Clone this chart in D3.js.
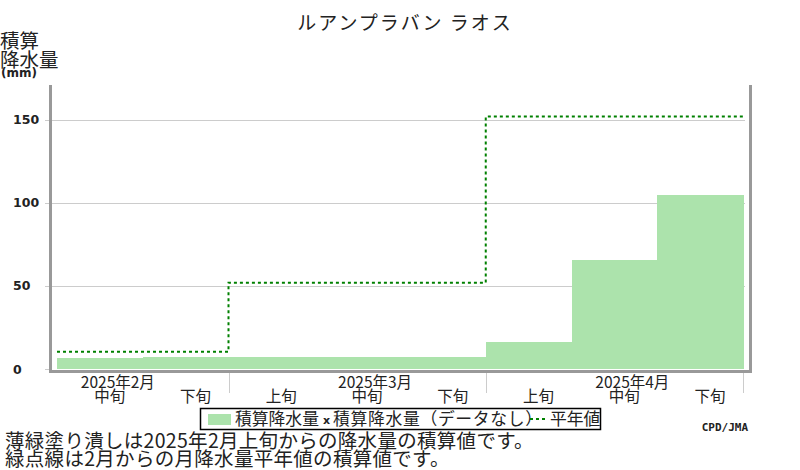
<!DOCTYPE html>
<html>
<head>
<meta charset="utf-8">
<script src="https://cdn.jsdelivr.net/npm/d3@7"></script>
<style>
  body { margin: 0; background: #fff; }
  svg { display: block; }
  .jp { font-family: "Noto Sans CJK JP", sans-serif; fill: #222; }
</style>
</head>
<body>
<svg id="chart"></svg>
<script>
// dekads shown on the x axis (2月中旬 .. 4月下旬)
const dekadLabels = ["中旬", "下旬", "上旬", "中旬", "下旬", "上旬", "中旬", "下旬"];
const dekadMonth = [0, 0, 1, 1, 1, 2, 2, 2];
const monthLabels = ["2025年2月", "2025年3月", "2025年4月"];
// accumulated precipitation since 2月上旬 (mm)
const accumPrecip = [6.4, 7.4, 7.4, 7.4, 7.4, 16.3, 65.7, 104.8];
// accumulated monthly normals since 2月 (mm)
const accumNormal = [10.4, 10.4, 52.0, 52.0, 52.0, 152.0, 152.0, 152.0];
const yTicks = [0, 50, 100, 150];

const width = 800;
const height = 470;

const svg = d3.select("#chart").attr("width", width).attr("height", height);

// plot frame
const frameLeft = 50.5, frameRight = 750.5, frameTop = 85, frameBottom = 371.5;

const x = d3.scaleBand()
  .domain(d3.range(dekadLabels.length))
  .range([57, 743])
  .paddingInner(0)
  .paddingOuter(0);

const y = d3.scaleLinear().domain([0, 171]).range([369, 85]);

// gridlines and y tick marks
svg.append("g")
  .selectAll("line")
  .data(yTicks)
  .join("line")
  .attr("x1", 45)
  .attr("x2", d => (d === 0 ? frameLeft : 745))
  .attr("y1", d => Math.round(y(d)) + 0.5)
  .attr("y2", d => Math.round(y(d)) + 0.5)
  .attr("stroke", "#cccccc")
  .attr("stroke-width", 1);

// y tick labels, left aligned
svg.append("g")
  .selectAll("text")
  .data(yTicks)
  .join("text")
  .attr("x", 13)
  .attr("y", d => y(d) + 4.5)
  .attr("font-family", "DejaVu Sans")
  .attr("font-weight", "bold")
  .attr("font-size", 12.5)
  .attr("fill", "#222")
  .text(d => d);

// accumulated precipitation bars
svg.append("g")
  .attr("shape-rendering", "crispEdges")
  .selectAll("rect")
  .data(accumPrecip)
  .join("rect")
  .attr("x", (d, i) => x(i))
  .attr("width", x.bandwidth() + 0.5)
  .attr("y", d => y(d))
  .attr("height", d => y(0) - y(d))
  .attr("fill", "#ace3ac");

// normal accumulation as a dotted step line
const stepLine = d3.line()
  .x(d => d[0])
  .y(d => d[1]);
const stepPts = [];
accumNormal.forEach((v, i) => {
  stepPts.push([x(i), y(v)]);
  stepPts.push([x(i) + x.bandwidth(), y(v)]);
});
svg.append("path")
  .attr("d", stepLine(stepPts))
  .attr("fill", "none")
  .attr("stroke", "#008000")
  .attr("stroke-width", 2)
  .attr("stroke-dasharray", "3,3");

// axes frame (left, bottom, right)
svg.append("path")
  .attr("d", `M${frameLeft},${frameTop} V${frameBottom} H${frameRight} V${frameTop}`)
  .attr("fill", "none")
  .attr("stroke", "#999999")
  .attr("stroke-width", 3);

// month separators below the axis
const sepIdx = d3.range(dekadLabels.length).filter(i => dekadLabels[i] === "上旬");
const sepX = sepIdx.map(i => x(i)).concat([x(dekadLabels.length - 1) + x.bandwidth()]);
svg.append("g")
  .selectAll("line")
  .data(sepX)
  .join("line")
  .attr("x1", d => Math.round(d) + 0.5)
  .attr("x2", d => Math.round(d) + 0.5)
  .attr("y1", 373)
  .attr("y2", 393)
  .attr("stroke", "#cccccc");

// dekad labels
svg.append("g")
  .selectAll("text")
  .data(dekadLabels)
  .join("text")
  .attr("class", "jp")
  .attr("x", (d, i) => x(i) + x.bandwidth() / 2 + 10)
  .attr("y", 402)
  .attr("text-anchor", "middle")
  .attr("font-size", 15.5)
  .text(d => d);

// month labels, placed over each month's 中旬
svg.append("g")
  .selectAll("text")
  .data(monthLabels)
  .join("text")
  .attr("class", "jp")
  .attr("x", (d, m) => {
    const i = d3.range(dekadLabels.length).find(k => dekadMonth[k] === m && dekadLabels[k] === "中旬");
    return x(i) + x.bandwidth() / 2 + 18;
  })
  .attr("y", 388)
  .attr("text-anchor", "middle")
  .attr("font-size", 15.5)
  .text(d => d);

// title
svg.append("text")
  .attr("class", "jp")
  .attr("x", 405)
  .attr("y", 30)
  .attr("text-anchor", "middle")
  .attr("font-size", 19)
  .attr("letter-spacing", 2)
  .text("ルアンプラバン ラオス");

// y axis title
svg.append("text").attr("class", "jp").attr("x", 0).attr("y", 48)
  .attr("font-size", 19.5).text("積算");
svg.append("text").attr("class", "jp").attr("x", 0).attr("y", 67)
  .attr("font-size", 19.5).text("降水量");
svg.append("text").attr("x", 1).attr("y", 77)
  .attr("font-family", "DejaVu Sans").attr("font-weight", "bold")
  .attr("font-size", 12).attr("fill", "#222").text("(mm)");

// legend
const lg = svg.append("g");
lg.append("rect")
  .attr("x", 200.5).attr("y", 408.5).attr("width", 400).attr("height", 21)
  .attr("fill", "#fff").attr("stroke", "#000").attr("stroke-width", 1.5);
lg.append("rect")
  .attr("x", 208).attr("y", 414).attr("width", 23).attr("height", 11)
  .attr("fill", "#ace3ac");
lg.append("text").attr("class", "jp").attr("x", 235).attr("y", 425)
  .attr("font-size", 16.8).text("積算降水量");
lg.append("text").attr("x", 323).attr("y", 424)
  .attr("font-family", "DejaVu Sans").attr("font-weight", "bold")
  .attr("font-size", 11).attr("fill", "#222").text("x");
lg.append("text").attr("class", "jp").attr("x", 333).attr("y", 425)
  .attr("font-size", 16.8).attr("letter-spacing", 0.7).text("積算降水量（データなし）");
lg.append("line")
  .attr("x1", 530).attr("x2", 547).attr("y1", 419).attr("y2", 419)
  .attr("stroke", "#008000").attr("stroke-width", 2).attr("stroke-dasharray", "3,3");
lg.append("text").attr("class", "jp").attr("x", 550).attr("y", 425)
  .attr("font-size", 16.8).text("平年値");

// credit
svg.append("text")
  .attr("x", 748).attr("y", 431)
  .attr("text-anchor", "end")
  .attr("font-family", "DejaVu Sans Mono").attr("font-weight", "bold")
  .attr("font-size", 11).attr("fill", "#222")
  .text("CPD/JMA");

// notes
svg.append("text").attr("class", "jp").attr("x", 5).attr("y", 448)
  .attr("font-size", 19.5).attr("letter-spacing", 0.3)
  .text("薄緑塗り潰しは2025年2月上旬からの降水量の積算値です。");
svg.append("text").attr("class", "jp").attr("x", 5).attr("y", 466)
  .attr("font-size", 19.5).attr("letter-spacing", 0.3)
  .text("緑点線は2月からの月降水量平年値の積算値です。");
</script>
</body>
</html>
